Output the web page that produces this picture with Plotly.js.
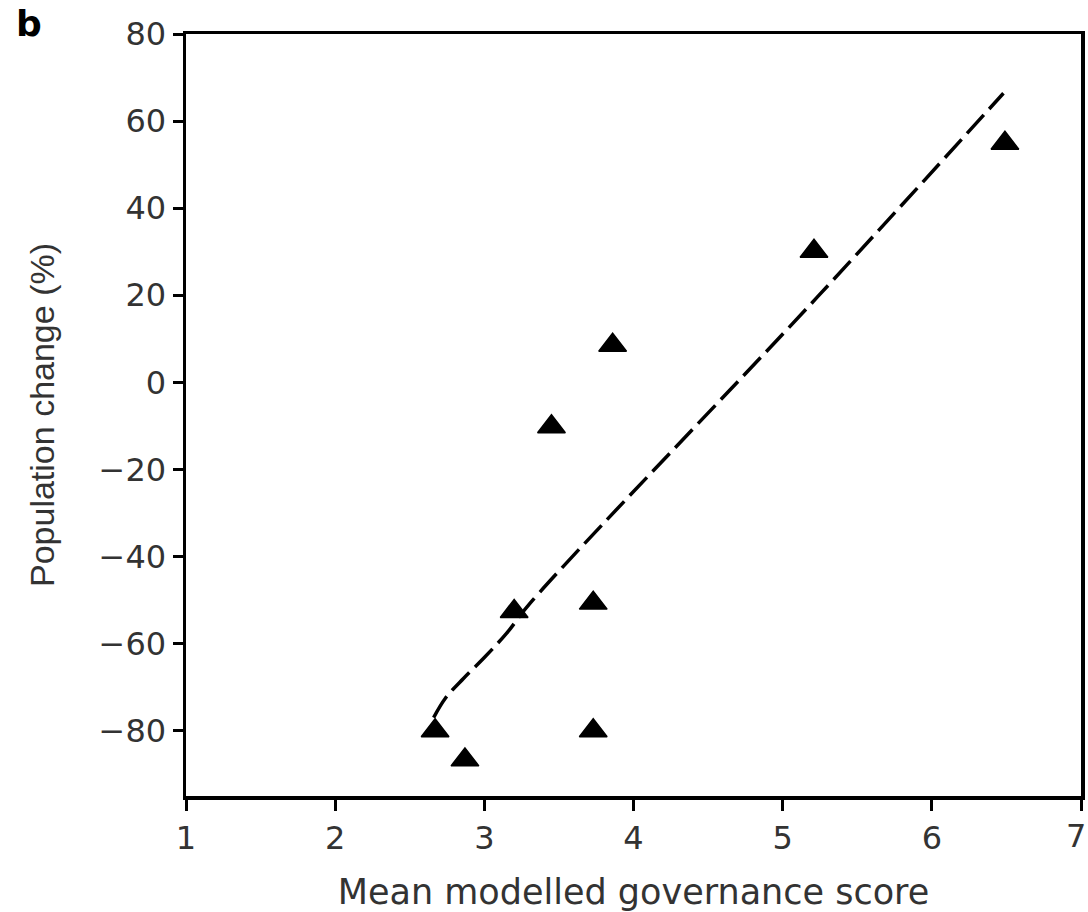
<!DOCTYPE html>
<html>
<head>
<meta charset="utf-8">
<script src="https://cdn.plot.ly/plotly-3.0.1.min.js"></script>
<style>
  html, body { margin: 0; padding: 0; background: #fff; }
  #chart { width: 1088px; height: 912px; }
</style>
</head>
<body>
<div id="chart"></div>
<script>
// Observed points (mean modelled governance score vs population change %)
const governanceScore = [2.67, 2.87, 3.20, 3.45, 3.73, 3.73, 3.86, 5.21, 6.49];
const populationChange = [-80, -86.7, -52.6, -10.2, -50.7, -80, 8.5, 30.1, 54.9];

// Fitted (dashed) curve
const fitScore = [2.66, 2.74, 2.86, 3.00, 3.15, 3.31, 5.23, 6.48];
const fitChange = [-77, -72.5, -68, -63.2, -57.6, -50.6, 19.5, 66.4];

// Axis ticks
const xTicks = [1, 2, 3, 4, 5, 6, 7];
const yTicks = [-80, -60, -40, -20, 0, 20, 40, 60, 80];

const textColor = '#333333';
const tickFont = { family: 'DejaVu Sans, Arial, sans-serif', size: 32, color: textColor };
const lastX = xTicks[xTicks.length - 1];

const traces = [
  {
    type: 'scatter', mode: 'lines',
    x: fitScore, y: fitChange,
    line: { color: '#000', width: 3.5, dash: '25px,8px', shape: 'spline', smoothing: 1 },
    hoverinfo: 'skip', showlegend: false
  },
  {
    type: 'scatter', mode: 'markers',
    x: governanceScore, y: populationChange,
    marker: { symbol: 'triangle-up', size: 24, color: '#000', line: { color: '#000', width: 1.5 } },
    showlegend: false
  }
];

const layout = {
  width: 1088, height: 912,
  paper_bgcolor: '#fff', plot_bgcolor: '#fff',
  margin: { l: 186, r: 7, t: 34, b: 116, pad: 0 },
  showlegend: false,
  xaxis: {
    range: [1, 7],
    tickvals: xTicks,
    // last label drawn as an annotation so it stays inside the page edge
    ticktext: xTicks.map(v => v === lastX ? '' : String(v)),
    ticks: 'outside', ticklen: 11, tickwidth: 3, tickcolor: '#000',
    showline: true, linecolor: '#000', linewidth: 3.5, mirror: true,
    showgrid: false, zeroline: false,
    tickfont: tickFont,
    title: { text: 'Mean modelled governance score', font: { family: 'DejaVu Sans, Arial, sans-serif', size: 35, color: textColor }, standoff: 32 }
  },
  yaxis: {
    range: [-95, 80],
    tickvals: yTicks,
    ticktext: yTicks.map(v => v < 0 ? '\u2212' + Math.abs(v) : String(v)),
    ticks: 'outside', ticklen: 10, tickwidth: 3, tickcolor: '#000',
    showline: true, linecolor: '#000', linewidth: 3.5, mirror: true,
    showgrid: false, zeroline: false,
    ticklabeloverflow: 'allow',
    tickfont: tickFont,
    title: { text: 'Population change (%)', font: { family: 'Liberation Sans, Arial, sans-serif', size: 34, color: textColor }, standoff: 34 }
  },
  annotations: [
    {
      text: '<b>b</b>', xref: 'paper', yref: 'paper',
      x: -0.192, y: 1.043, xanchor: 'left', yanchor: 'top',
      showarrow: false,
      font: { family: 'DejaVu Sans, Arial, sans-serif', size: 36, color: '#000' }
    },
    {
      text: String(lastX), xref: 'x', yref: 'paper',
      x: lastX, y: 0, xanchor: 'right', yanchor: 'top',
      xshift: 7, yshift: -19,
      showarrow: false,
      font: tickFont
    }
  ]
};

Plotly.newPlot('chart', traces, layout, { staticPlot: true, displayModeBar: false });
</script>
</body>
</html>
